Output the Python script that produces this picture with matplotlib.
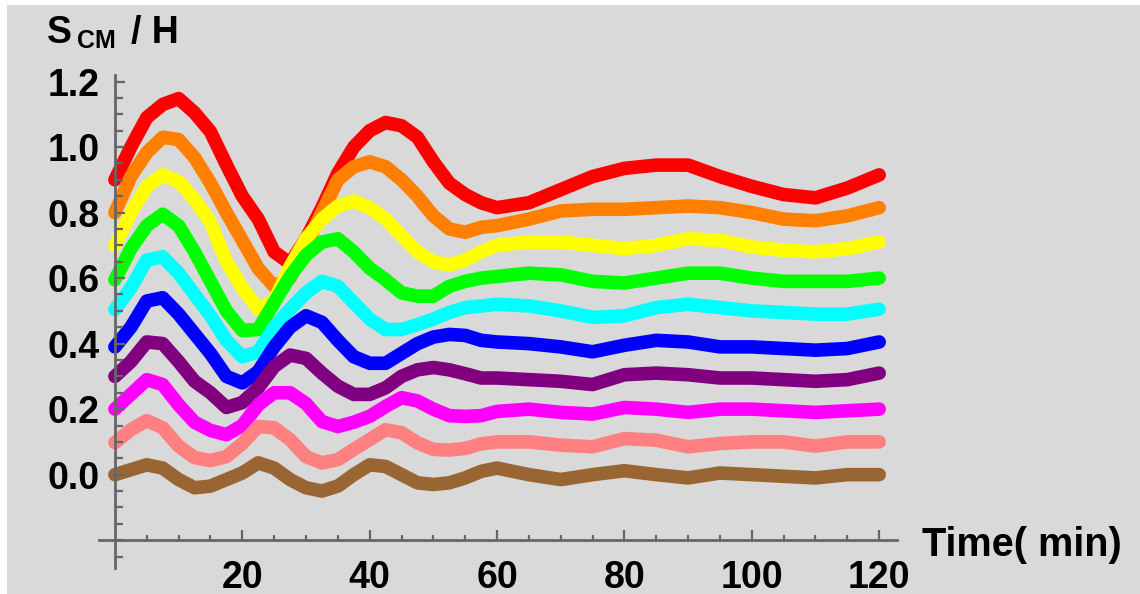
import matplotlib
matplotlib.use("Agg")
import matplotlib.pyplot as plt
import numpy as np
from matplotlib.patches import Rectangle
from matplotlib.ticker import FixedLocator

# time (min)
t = [0, 2.5, 5, 7.5, 10, 12.5, 15, 17.5, 20, 22.5, 25, 27.5, 30, 32.5, 35,
     37.5, 40, 42.5, 45, 47.5, 50, 52.5, 55, 57.5, 60,
     65, 70, 75, 80, 85, 90, 95, 100, 105, 110, 115, 120]

red = [0.90, 1.00, 1.09, 1.13, 1.148, 1.105, 1.047, 0.946, 0.85, 0.78, 0.68, 0.645,
       0.72, 0.815, 0.92, 1.00, 1.05, 1.075, 1.065, 1.03, 0.955, 0.89, 0.855, 0.83, 0.815,
       0.83, 0.87, 0.91, 0.935, 0.945, 0.945, 0.91, 0.88, 0.855, 0.845, 0.875, 0.915]
orange = [0.80, 0.91, 0.983, 1.03, 1.023, 0.968, 0.89, 0.80, 0.715, 0.63, 0.575, 0.60,
          0.70, 0.80, 0.90, 0.94, 0.955, 0.94, 0.90, 0.85, 0.79, 0.75, 0.74, 0.755, 0.76,
          0.78, 0.805, 0.81, 0.81, 0.815, 0.82, 0.815, 0.80, 0.78, 0.775, 0.79, 0.815]
yellow = [0.70, 0.80, 0.88, 0.915, 0.895, 0.84, 0.77, 0.65, 0.57, 0.505, 0.53, 0.635,
          0.72, 0.78, 0.82, 0.835, 0.815, 0.78, 0.73, 0.68, 0.65, 0.64, 0.655, 0.68, 0.70,
          0.71, 0.71, 0.70, 0.69, 0.70, 0.72, 0.715, 0.695, 0.685, 0.68, 0.69, 0.71]
green = [0.595, 0.69, 0.76, 0.795, 0.76, 0.68, 0.59, 0.50, 0.44, 0.443, 0.525, 0.605,
         0.67, 0.71, 0.72, 0.68, 0.63, 0.595, 0.555, 0.545, 0.545, 0.575, 0.59, 0.60, 0.605,
         0.615, 0.61, 0.59, 0.585, 0.60, 0.615, 0.615, 0.60, 0.59, 0.59, 0.59, 0.60]
cyan = [0.504, 0.57, 0.655, 0.665, 0.615, 0.55, 0.485, 0.41, 0.36, 0.375, 0.45, 0.505,
        0.555, 0.59, 0.575, 0.525, 0.475, 0.443, 0.443, 0.458, 0.475, 0.495, 0.51, 0.515, 0.52,
        0.515, 0.50, 0.48, 0.485, 0.51, 0.52, 0.51, 0.50, 0.495, 0.49, 0.49, 0.505]
blue = [0.39, 0.45, 0.53, 0.54, 0.49, 0.43, 0.37, 0.30, 0.28, 0.315, 0.39, 0.45,
        0.485, 0.465, 0.41, 0.36, 0.34, 0.34, 0.37, 0.40, 0.42, 0.428, 0.425, 0.41, 0.405,
        0.40, 0.39, 0.375, 0.395, 0.41, 0.405, 0.39, 0.39, 0.385, 0.38, 0.385, 0.405]
purple = [0.30, 0.345, 0.405, 0.40, 0.345, 0.285, 0.25, 0.205, 0.22, 0.265, 0.33, 0.365,
          0.355, 0.31, 0.27, 0.245, 0.245, 0.265, 0.30, 0.32, 0.327, 0.32, 0.308, 0.295, 0.295,
          0.29, 0.285, 0.275, 0.305, 0.31, 0.305, 0.295, 0.295, 0.29, 0.285, 0.29, 0.31]
magenta = [0.20, 0.245, 0.29, 0.275, 0.213, 0.16, 0.135, 0.122, 0.15, 0.213, 0.25, 0.25,
           0.217, 0.162, 0.147, 0.16, 0.178, 0.208, 0.235, 0.225, 0.20, 0.18, 0.178, 0.18, 0.193,
           0.20, 0.19, 0.185, 0.205, 0.20, 0.19, 0.20, 0.20, 0.195, 0.19, 0.195, 0.20]
pink = [0.098, 0.137, 0.165, 0.143, 0.087, 0.052, 0.043, 0.055, 0.095, 0.147, 0.143, 0.107,
        0.055, 0.036, 0.046, 0.077, 0.107, 0.137, 0.128, 0.097, 0.077, 0.075, 0.08, 0.094, 0.10,
        0.10, 0.09, 0.085, 0.11, 0.105, 0.085, 0.095, 0.10, 0.10, 0.087, 0.10, 0.10]
brown = [0.0, 0.015, 0.03, 0.02, -0.015, -0.04, -0.035, -0.015, 0.005, 0.036, 0.02, -0.015,
         -0.04, -0.05, -0.035, 0.0, 0.03, 0.025, 0.0, -0.025, -0.03, -0.025, -0.01, 0.01, 0.02,
         0.0, -0.015, 0.0, 0.012, 0.0, -0.01, 0.005, 0.0, -0.005, -0.01, 0.0, 0.0]

series = [red, orange, yellow, green, cyan, blue, purple, magenta, pink, brown]
colors = ["#ff0000", "#ff8000", "#ffff00", "#00ff00", "#00ffff",
          "#0000ff", "#800080", "#ff00ff", "#ff8080", "#996633"]

y_major = [0.0, 0.2, 0.4, 0.6, 0.8, 1.0, 1.2]
x_major = [20, 40, 60, 80, 100, 120]

W, H = 1140, 594
BG = "#d9d9d9"
FONT = "Liberation Sans"

fig = plt.figure(figsize=(W / 100, H / 100), dpi=100, facecolor="white")
fig.patches.append(Rectangle((7 / W, 0), 1, 1 - 5 / H, transform=fig.transFigure,
                             facecolor=BG, edgecolor="none", zorder=-10))

ax = fig.add_axes([99 / W, 26 / H, 798 / W, 493 / H])
ax.set_facecolor("none")
ax.set_xlim(-2.5, 122.8)
ax.set_ylim(-0.285, 1.22)

# lower curves are drawn on top, as in the original
for i, (vals, col) in enumerate(zip(series, colors)):
    ax.plot(t, vals, color=col, lw=9.8, solid_capstyle="round",
            solid_joinstyle="round", zorder=2 + i * 0.01)

axcol = "#666666"
for side in ["top", "right"]:
    ax.spines[side].set_visible(False)
ax.spines["left"].set_position(("data", 0))
ax.spines["bottom"].set_position(("data", -0.2))
for side in ["left", "bottom"]:
    ax.spines[side].set_color(axcol)
    ax.spines[side].set_linewidth(2.0)
    ax.spines[side].set_zorder(5)
ax.set_axisbelow(False)

ax.xaxis.set_major_locator(FixedLocator(x_major))
ax.xaxis.set_minor_locator(FixedLocator([v for v in np.arange(5, 121, 5) if v % 20]))
ax.yaxis.set_major_locator(FixedLocator(y_major))
ax.yaxis.set_minor_locator(FixedLocator(
    [round(v, 2) for v in np.arange(-0.25, 1.21, 0.05) if round(v, 2) not in y_major]))
ax.set_xticklabels([str(v) for v in x_major])
ax.set_yticklabels([f"{v:.1f}" for v in y_major])

ax.tick_params(axis="both", which="both", direction="in", color=axcol, width=1.6)
ax.tick_params(axis="x", which="major", length=7.5, pad=14)
ax.tick_params(axis="x", which="minor", length=3.8)
ax.tick_params(axis="y", which="major", length=7.5, pad=11)
ax.tick_params(axis="y", which="minor", length=5.5)
for lab in ax.get_xticklabels() + ax.get_yticklabels():
    lab.set_fontfamily(FONT)
    lab.set_fontweight("bold")
    lab.set_fontsize(27)

def px(x, y):
    return x / W, 1 - y / H

fig.text(*px(47, 43), "S", fontsize=27, fontweight="bold", family=FONT, va="baseline")
fig.text(*px(77, 48), "CM", fontsize=18, fontweight="bold", family=FONT, va="baseline")
fig.text(*px(131, 43), "/ H", fontsize=27, fontweight="bold", family=FONT, va="baseline")
fig.text(*px(922, 556), "Time( min)", fontsize=28.5, fontweight="bold", family=FONT,
         va="baseline")

fig.savefig("out.png", dpi=100, facecolor=fig.get_facecolor())
